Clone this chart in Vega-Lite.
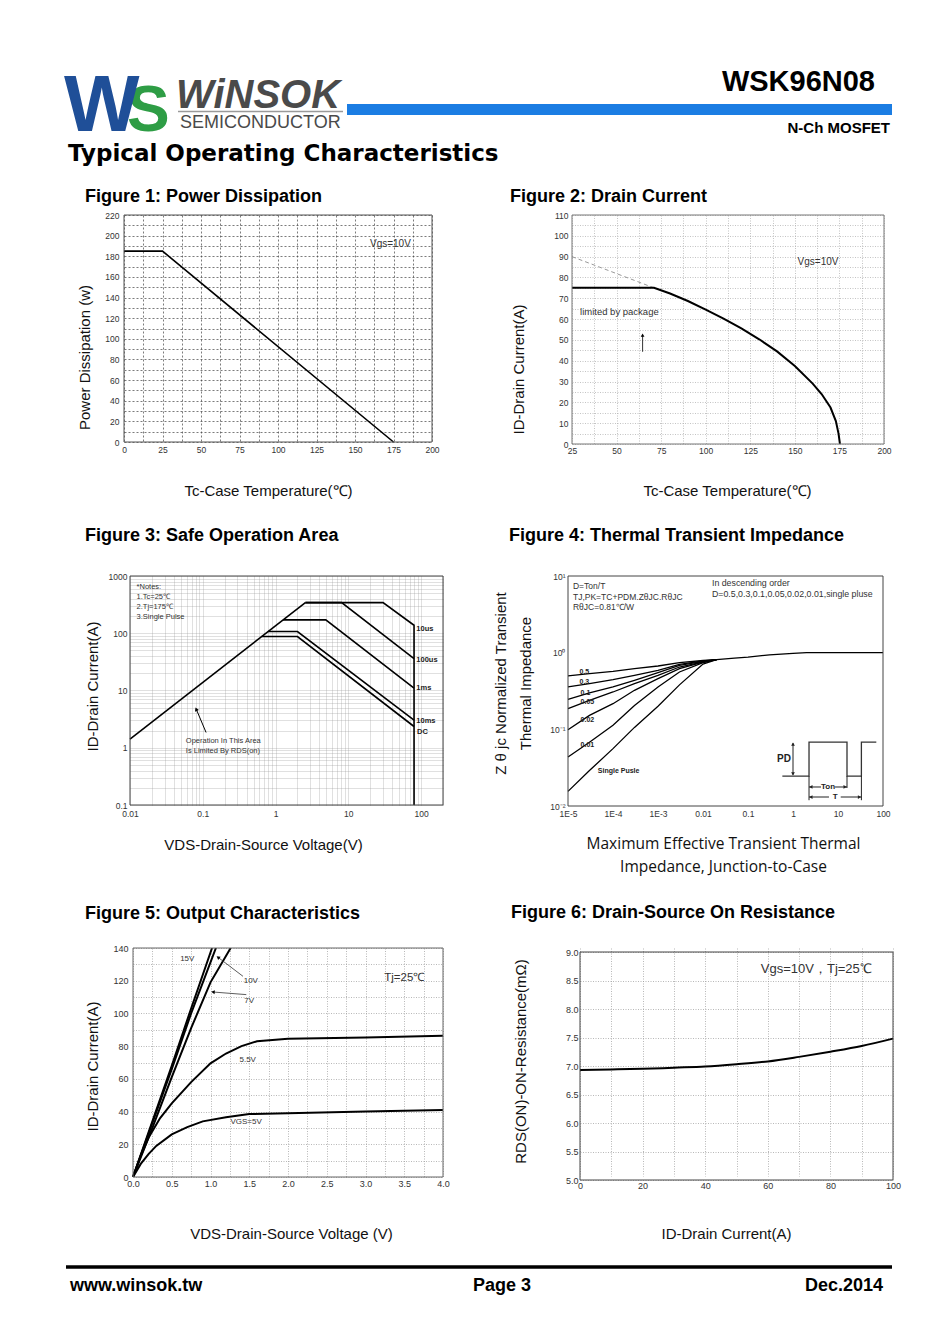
{
"$schema": "https://vega.github.io/schema/vega-lite/v6.json",
"background": "white",
"padding": 0,
"columns": 2,
"spacing": {"row": 0, "column": 125},
"bounds": "flush",
"align": "each",
"datasets": {
"f1": [{"x":0,"y":185},{"x":25,"y":185},{"x":175,"y":0}],
"f2": [{"x":25,"y":75},{"x":71,"y":75},{"x":80,"y":72.3},{"x":90,"y":68.7},{"x":100,"y":64.5},{"x":110,"y":60.2},{"x":120,"y":55.5},{"x":130,"y":50.3},{"x":140,"y":44.5},{"x":150,"y":37.5},{"x":160,"y":29},{"x":165,"y":24},{"x":170,"y":17.5},{"x":173,"y":11},{"x":174.5,"y":5},{"x":175.3,"y":0}],
"f2d": [{"x":25,"y":90},{"x":71,"y":75}],
"f2seg": [{"x":64.6,"y":44.3,"x2":64.6,"y2":52}],
"f3": [
{"s":"RDS","i":0,"x":0.01,"y":1.42},{"s":"RDS","i":1,"x":2.57,"y":343},
{"s":"10us","i":0,"x":2.57,"y":343},{"s":"10us","i":1,"x":30,"y":343},{"s":"10us","i":2,"x":80,"y":138},{"s":"10us","i":3,"x":80,"y":0.1},
{"s":"100us","i":0,"x":2.57,"y":343},{"s":"100us","i":1,"x":8.1,"y":343},{"s":"100us","i":2,"x":80,"y":36},
{"s":"1ms","i":0,"x":1.27,"y":171},{"s":"1ms","i":1,"x":4.9,"y":171},{"s":"1ms","i":2,"x":80,"y":11},
{"s":"10ms","i":0,"x":0.79,"y":107},{"s":"10ms","i":1,"x":2,"y":107},{"s":"10ms","i":2,"x":80,"y":3.05},
{"s":"DC","i":0,"x":0.645,"y":87.5},{"s":"DC","i":1,"x":2,"y":87.5},{"s":"DC","i":2,"x":80,"y":2.35}],
"f3lab": [{"t":"10us","x":86,"y":118},{"t":"100us","x":86,"y":34},{"t":"1ms","x":86,"y":11.1},{"t":"10ms","x":86,"y":2.96},{"t":"DC","x":88,"y":1.9}],
"f3seg": [{"x":0.111,"y":1.85,"x2":0.0813,"y2":4.73}],
"f4": [
{"s":"0.5","x":1e-5,"y":0.497},{"s":"0.5","x":3e-5,"y":0.532},{"s":"0.5","x":1e-4,"y":0.571},{"s":"0.5","x":3e-4,"y":0.618},{"s":"0.5","x":1e-3,"y":0.67},{"s":"0.5","x":3e-3,"y":0.74},{"s":"0.5","x":0.01,"y":0.79},{"s":"0.5","x":0.02,"y":0.81},
{"s":"0.3","x":1e-5,"y":0.357},{"s":"0.3","x":3e-5,"y":0.394},{"s":"0.3","x":1e-4,"y":0.445},{"s":"0.3","x":3e-4,"y":0.506},{"s":"0.3","x":1e-3,"y":0.588},{"s":"0.3","x":3e-3,"y":0.705},{"s":"0.3","x":0.01,"y":0.78},{"s":"0.3","x":0.02,"y":0.81},
{"s":"0.1","x":1e-5,"y":0.246},{"s":"0.1","x":3e-5,"y":0.298},{"s":"0.1","x":1e-4,"y":0.357},{"s":"0.1","x":3e-4,"y":0.436},{"s":"0.1","x":1e-3,"y":0.548},{"s":"0.1","x":3e-3,"y":0.684},{"s":"0.1","x":0.01,"y":0.77},{"s":"0.1","x":0.02,"y":0.81},
{"s":"0.05","x":1e-5,"y":0.186},{"s":"0.05","x":3e-5,"y":0.239},{"s":"0.05","x":1e-4,"y":0.307},{"s":"0.05","x":3e-4,"y":0.394},{"s":"0.05","x":1e-3,"y":0.506},{"s":"0.05","x":3e-3,"y":0.65},{"s":"0.05","x":0.01,"y":0.76},{"s":"0.05","x":0.02,"y":0.81},
{"s":"0.02","x":1e-5,"y":0.099},{"s":"0.02","x":3e-5,"y":0.152},{"s":"0.02","x":1e-4,"y":0.216},{"s":"0.02","x":3e-4,"y":0.323},{"s":"0.02","x":1e-3,"y":0.458},{"s":"0.02","x":3e-3,"y":0.618},{"s":"0.02","x":0.01,"y":0.75},{"s":"0.02","x":0.02,"y":0.81},
{"s":"0.01","x":1e-5,"y":0.0436},{"s":"0.01","x":3e-5,"y":0.068},{"s":"0.01","x":1e-4,"y":0.113},{"s":"0.01","x":3e-4,"y":0.205},{"s":"0.01","x":1e-3,"y":0.356},{"s":"0.01","x":3e-3,"y":0.56},{"s":"0.01","x":0.01,"y":0.74},{"s":"0.01","x":0.02,"y":0.81},
{"s":"sp","x":1e-5,"y":0.0155},{"s":"sp","x":3e-5,"y":0.029},{"s":"sp","x":1e-4,"y":0.056},{"s":"sp","x":3e-4,"y":0.106},{"s":"sp","x":1e-3,"y":0.2},{"s":"sp","x":3e-3,"y":0.38},{"s":"sp","x":0.01,"y":0.71},{"s":"sp","x":0.02,"y":0.81},
{"s":"tail","x":0.02,"y":0.81},{"s":"tail","x":0.05,"y":0.85},{"s":"tail","x":0.1,"y":0.875},{"s":"tail","x":0.3,"y":0.935},{"s":"tail","x":1,"y":0.98},{"s":"tail","x":2,"y":1},{"s":"tail","x":100,"y":1}],
"f4lab": [{"t":"0.5","x":1.8e-5,"y":0.56},{"t":"0.3","x":1.8e-5,"y":0.414},{"t":"0.1","x":1.9e-5,"y":0.301},{"t":"0.05","x":1.9e-5,"y":0.227},{"t":"0.02","x":1.9e-5,"y":0.131},{"t":"0.01","x":1.9e-5,"y":0.0618},{"t":"Single Pusle","x":4.6e-5,"y":0.0286}],
"f4pulse": [{"i":0,"x":0.58,"y":0.0246},{"i":1,"x":2.27,"y":0.0246},{"i":2,"x":2.27,"y":0.0683},{"i":3,"x":15.85,"y":0.0683},{"i":4,"x":15.85,"y":0.0246},{"i":5,"x":33.1,"y":0.0246},{"i":6,"x":33.1,"y":0.0683},{"i":7,"x":71,"y":0.0683}],
"f4seg": [{"x":1,"y":0.066,"x2":1,"y2":0.0255},{"x":2.27,"y":0.0246,"x2":2.27,"y2":0.0119},{"x":33.1,"y":0.0246,"x2":33.1,"y2":0.0119},{"x":15.85,"y":0.0246,"x2":15.85,"y2":0.0172},{"x":2.27,"y":0.0177,"x2":4.2,"y2":0.0177},{"x":8.6,"y":0.0177,"x2":15.85,"y2":0.0177},{"x":2.27,"y":0.0131,"x2":6.3,"y2":0.0131},{"x":11.5,"y":0.0131,"x2":33.1,"y2":0.0131}],
"f4arr": [{"x":1,"y":0.064,"dir":"triangle-up"},{"x":1,"y":0.0262,"dir":"triangle-down"},{"x":2.5,"y":0.0177,"dir":"triangle-left"},{"x":14.4,"y":0.0177,"dir":"triangle-right"},{"x":2.5,"y":0.0131,"dir":"triangle-left"},{"x":30,"y":0.0131,"dir":"triangle-right"}],
"f4txt": [{"t":"Ton","x":6,"y":0.0177},{"t":"T","x":8.7,"y":0.0131}],
"f5": [
{"s":"15V","x":0,"y":0},{"s":"15V","x":0.25,"y":34},{"s":"15V","x":0.5,"y":68},{"s":"15V","x":0.75,"y":103},{"s":"15V","x":1.02,"y":140},
{"s":"10V","x":0,"y":0},{"s":"10V","x":0.25,"y":33},{"s":"10V","x":0.5,"y":66},{"s":"10V","x":0.75,"y":100},{"s":"10V","x":1.07,"y":140},
{"s":"7V","x":0,"y":0},{"s":"7V","x":0.25,"y":30},{"s":"7V","x":0.5,"y":61},{"s":"7V","x":0.75,"y":91},{"s":"7V","x":1,"y":119},{"s":"7V","x":1.26,"y":140},
{"s":"5.5V","x":0,"y":0},{"s":"5.5V","x":0.1,"y":13},{"s":"5.5V","x":0.2,"y":24},{"s":"5.5V","x":0.35,"y":36},{"s":"5.5V","x":0.5,"y":45},{"s":"5.5V","x":0.75,"y":58},{"s":"5.5V","x":1,"y":69.5},{"s":"5.5V","x":1.2,"y":75.5},{"s":"5.5V","x":1.4,"y":80},{"s":"5.5V","x":1.6,"y":83},{"s":"5.5V","x":2,"y":84.5},{"s":"5.5V","x":3,"y":85.3},{"s":"5.5V","x":4,"y":86.3},
{"s":"5V","x":0,"y":0},{"s":"5V","x":0.1,"y":8},{"s":"5V","x":0.2,"y":14},{"s":"5V","x":0.3,"y":19},{"s":"5V","x":0.5,"y":26},{"s":"5V","x":0.7,"y":30.5},{"s":"5V","x":0.9,"y":34},{"s":"5V","x":1.2,"y":36.5},{"s":"5V","x":1.5,"y":38.5},{"s":"5V","x":2,"y":39},{"s":"5V","x":3,"y":40},{"s":"5V","x":4,"y":41}],
"f5lab": [{"t":"15V","x":0.7,"y":133},{"t":"10V","x":1.52,"y":119.6},{"t":"7V","x":1.5,"y":107.4},{"t":"5.5V","x":1.48,"y":71.7},{"t":"VGS=5V","x":1.46,"y":33.5}],
"f5seg": [{"x":1.419,"y":122.7,"x2":1.097,"y2":134.3},{"x":1.462,"y":111.5,"x2":1.032,"y2":113.1}],
"f6": [{"x":0,"y":6.93},{"x":10,"y":6.94},{"x":20,"y":6.95},{"x":30,"y":6.97},{"x":40,"y":6.99},{"x":50,"y":7.03},{"x":60,"y":7.08},{"x":70,"y":7.16},{"x":80,"y":7.25},{"x":90,"y":7.35},{"x":100,"y":7.48}]
},
"concat": [
{
"width": 1, "height": 215,
"data": {"values": [{}]},
"layer": [
{"mark": {"type": "rect", "color": "white", "opacity": 0},
 "encoding": {"x": {"datum": 0, "type": "quantitative", "scale": {"domain": [124, 125], "nice": false, "zero": false}, "axis": null}, "x2": {"datum": 950},
  "y": {"datum": 0, "type": "quantitative", "scale": {"domain": [0, 215], "nice": false, "zero": false, "reverse": true}, "axis": null}, "y2": {"datum": 1}}},
{"mark": {"type": "rect", "color": "#1b7de3"},
 "encoding": {"x": {"datum": 347}, "x2": {"datum": 892}, "y": {"datum": 104}, "y2": {"datum": 115}}},
{"mark": {"type": "rule", "color": "#9a9a9a", "strokeWidth": 1.5},
 "encoding": {"x": {"datum": 178}, "x2": {"datum": 343}, "y": {"datum": 111.5}}},
{"mark": {"type": "text", "text": "S", "font": "Liberation Sans", "fontWeight": "bold", "fontSize": 64, "color": "#2e9d45", "align": "left", "baseline": "alphabetic"},
 "encoding": {"x": {"datum": 127}, "y": {"datum": 131}}},
{"mark": {"type": "text", "text": "W", "font": "Liberation Sans", "fontWeight": "bold", "fontSize": 80, "color": "#1f4f98", "align": "left", "baseline": "alphabetic"},
 "encoding": {"x": {"datum": 64}, "y": {"datum": 131}}},
{"mark": {"type": "text", "text": "WiNSOK", "font": "Liberation Sans", "fontWeight": "bold", "fontStyle": "italic", "fontSize": 40, "color": "#4a4a4a", "align": "left", "baseline": "alphabetic"},
 "encoding": {"x": {"datum": 176}, "y": {"datum": 108}}},
{"mark": {"type": "text", "text": "SEMICONDUCTOR", "font": "Liberation Sans", "fontSize": 18, "color": "#4a4a4a", "align": "left", "baseline": "alphabetic"},
 "encoding": {"x": {"datum": 180}, "y": {"datum": 128}}},
{"mark": {"type": "text", "text": "WSK96N08", "font": "Liberation Sans", "fontWeight": "bold", "fontSize": 29, "color": "#000", "align": "right", "baseline": "alphabetic"},
 "encoding": {"x": {"datum": 875}, "y": {"datum": 91}}},
{"mark": {"type": "text", "text": "N-Ch MOSFET", "font": "Liberation Sans", "fontWeight": "bold", "fontSize": 15, "color": "#000", "align": "right", "baseline": "alphabetic"},
 "encoding": {"x": {"datum": 890}, "y": {"datum": 133}}},
{"mark": {"type": "text", "text": "Typical Operating Characteristics", "font": "DejaVu Sans", "fontWeight": "bold", "fontSize": 23, "color": "#000", "align": "left", "baseline": "alphabetic"},
 "encoding": {"x": {"datum": 68}, "y": {"datum": 161}}}
]
},
{"width": 1, "height": 1, "data": {"values": []}, "mark": "point"},

{
"width": 308, "height": 227,
"title": {"text": "Figure 1: Power Dissipation", "dx": -39, "offset": 5},
"layer": [
{"data": {"name": "f1"},
 "mark": {"type": "line", "color": "#000", "strokeWidth": 1.6},
 "encoding": {
  "x": {"field": "x", "type": "quantitative", "scale": {"domain": [0, 200], "nice": false, "zero": false},
   "axis": {"tickCount": 500, "values": [0,12.5,25,37.5,50,62.5,75,87.5,100,112.5,125,137.5,150,162.5,175,187.5,200], "labelExpr": "datum.value % 25 == 0 ? format(datum.value, 'd') : ''", "labelOverlap": false, "title": "Tc-Case Temperature(℃)", "titleX": 144, "titleY": 48, "gridColor": "#444", "gridDash": [2, 2], "labelPadding": 3}},
  "y": {"field": "y", "type": "quantitative", "scale": {"domain": [0, 220], "nice": false, "zero": false},
   "axis": {"tickCount": 500, "values": [0,10,20,30,40,50,60,70,80,90,100,110,120,130,140,150,160,170,180,190,200,210,220], "labelExpr": "datum.value % 20 == 0 ? format(datum.value, 'd') : ''", "labelOverlap": false, "title": "Power Dissipation (w)", "titleX": -40, "titleY": 142, "gridColor": "#444", "gridDash": [2, 2], "labelPadding": 5}}}},
{"data": {"values": [{"t": "Vgs=10V"}]},
 "mark": {"type": "text", "fontSize": 10, "color": "#333"},
 "encoding": {"x": {"datum": 173}, "y": {"datum": 192}, "text": {"field": "t"}}},
{"data": {"values": [{}]},
 "mark": {"type": "rect", "filled": false, "color": "#555", "strokeWidth": 1},
 "encoding": {"x": {"datum": 0}, "x2": {"datum": 200}, "y": {"datum": 0}, "y2": {"datum": 220}}}
]
},
{
"width": 316, "height": 229,
"title": {"text": "Figure 2: Drain Current", "dx": -58, "offset": 5},
"layer": [
{"data": {"name": "f2d"},
 "mark": {"type": "line", "color": "#999", "strokeWidth": 1, "strokeDash": [4, 3]},
 "encoding": {
  "x": {"field": "x", "type": "quantitative", "scale": {"domain": [25, 200], "range": [4, 316], "nice": false, "zero": false},
   "axis": {"tickCount": 500, "values": [25,37.5,50,62.5,75,87.5,100,112.5,125,137.5,150,162.5,175,187.5,200], "labelExpr": "datum.value % 25 == 0 ? format(datum.value, 'd') : ''", "labelOverlap": false, "title": "Tc-Case Temperature(℃)", "titleX": 159, "titleY": 46, "gridColor": "#aaa", "gridDash": [1, 1.5], "labelPadding": 2}},
  "y": {"field": "y", "type": "quantitative", "scale": {"domain": [0, 110], "nice": false, "zero": false},
   "axis": {"tickCount": 500, "offset": -4, "values": [0,5,10,15,20,25,30,35,40,45,50,55,60,65,70,75,80,85,90,95,100,105,110], "labelExpr": "datum.value % 10 == 0 ? format(datum.value, 'd') : ''", "labelOverlap": false, "title": "ID-Drain Current(A)", "titleX": -54, "titleY": 154, "gridColor": "#aaa", "gridDash": [1, 1.5], "labelPadding": 4}}}},
{"data": {"name": "f2"},
 "mark": {"type": "line", "color": "#000", "strokeWidth": 2},
 "encoding": {"x": {"field": "x", "type": "quantitative"}, "y": {"field": "y", "type": "quantitative"}}},
{"data": {"name": "f2seg"},
 "mark": {"type": "rule", "color": "#000", "strokeWidth": 0.8},
 "encoding": {"x": {"field": "x", "type": "quantitative"}, "y": {"field": "y", "type": "quantitative"}, "x2": {"field": "x2"}, "y2": {"field": "y2"}}},
{"data": {"values": [{}]},
 "mark": {"type": "point", "shape": "triangle-up", "filled": true, "color": "#000", "size": 14, "opacity": 1},
 "encoding": {"x": {"datum": 64.6}, "y": {"datum": 52.3}}},
{"data": {"values": [{"t": "Vgs=10V"}]},
 "mark": {"type": "text", "fontSize": 10, "color": "#333"},
 "encoding": {"x": {"datum": 163}, "y": {"datum": 87.6}, "text": {"field": "t"}}},
{"data": {"values": [{"t": "limited by package"}]},
 "mark": {"type": "text", "fontSize": 9.5, "color": "#333", "align": "left"},
 "encoding": {"x": {"datum": 29.5}, "y": {"datum": 63.5}, "text": {"field": "t"}}},
{"data": {"values": [{}]},
 "mark": {"type": "rect", "filled": false, "color": "#777", "strokeWidth": 1},
 "encoding": {"x": {"datum": 25}, "x2": {"datum": 200}, "y": {"datum": 0}, "y2": {"datum": 110}}}
]
},

{"width": 1, "height": 132, "data": {"values": []}, "mark": "point"},
{"width": 1, "height": 132, "data": {"values": []}, "mark": "point"},

{
"width": 319, "height": 229,
"title": {"text": "Figure 3: Safe Operation Area", "dx": -39, "offset": 27},
"layer": [
{"data": {"name": "f3"},
 "mark": {"type": "line", "color": "#000", "strokeWidth": 1.6},
 "encoding": {
  "x": {"field": "x", "type": "quantitative", "scale": {"type": "log", "domain": [0.01, 200], "range": [6, 319], "nice": false},
   "axis": {"tickCount": 500, "values": [0.01,0.02,0.03,0.04,0.05,0.06,0.07,0.08,0.09,0.1,0.2,0.3,0.4,0.5,0.6,0.7,0.8,0.9,1,2,3,4,5,6,7,8,9,10,20,30,40,50,60,70,80,90,100,200], "labelExpr": "abs(log(datum.value)/LN10 - round(log(datum.value)/LN10)) < 0.01 ? format(datum.value, '~g') : ''", "labelOverlap": false, "title": "VDS-Drain-Source Voltage(V)", "titleX": 139, "titleY": 39, "gridColor": "#999", "gridDash": [1, 1], "gridWidth": 0.6, "labelPadding": 4}},
  "y": {"field": "y", "type": "quantitative", "scale": {"type": "log", "domain": [0.1, 1000], "nice": false},
   "axis": {"tickCount": 500, "offset": -6, "values": [0.1,0.2,0.3,0.4,0.5,0.6,0.7,0.8,0.9,1,2,3,4,5,6,7,8,9,10,20,30,40,50,60,70,80,90,100,200,300,400,500,600,700,800,900,1000], "labelExpr": "abs(log(datum.value)/LN10 - round(log(datum.value)/LN10)) < 0.01 ? format(datum.value, '~g') : ''", "labelOverlap": false, "title": "ID-Drain Current(A)", "titleX": -38, "titleY": 110, "gridColor": "#999", "gridDash": [1, 1], "gridWidth": 0.6, "labelPadding": 3}},
  "detail": {"field": "s"},
  "order": {"field": "i"}}},
{"data": {"name": "f3lab"},
 "mark": {"type": "text", "fontSize": 7.5, "fontWeight": "bold", "color": "#222", "align": "left"},
 "encoding": {"x": {"field": "x", "type": "quantitative"}, "y": {"field": "y", "type": "quantitative"}, "text": {"field": "t"}}},
{"data": {"values": [{"t": "*Notes:\n1.Tc=25℃\n2.Tj=175℃\n3.Single Pulse"}]},
 "mark": {"type": "text", "fontSize": 7.5, "color": "#333", "align": "left", "baseline": "top", "lineBreak": "\n", "lineHeight": 10},
 "encoding": {"x": {"datum": 0.0123}, "y": {"datum": 760}, "text": {"field": "t"}}},
{"data": {"values": [{"t": "Operation In This Area\n Is Limited By RDS(on)"}]},
 "mark": {"type": "text", "fontSize": 7.5, "color": "#333", "align": "left", "baseline": "top", "lineBreak": "\n", "lineHeight": 10.5},
 "encoding": {"x": {"datum": 0.0585}, "y": {"datum": 1.56}, "text": {"field": "t"}}},
{"data": {"name": "f3seg"},
 "mark": {"type": "rule", "color": "#000", "strokeWidth": 1},
 "encoding": {"x": {"field": "x", "type": "quantitative"}, "y": {"field": "y", "type": "quantitative"}, "x2": {"field": "x2"}, "y2": {"field": "y2"}}},
{"data": {"values": [{}]},
 "mark": {"type": "point", "shape": "triangle-up", "filled": true, "color": "#000", "size": 18, "opacity": 1, "angle": 337},
 "encoding": {"x": {"datum": 0.0813}, "y": {"datum": 4.73}}},
{"data": {"values": [{}]},
 "mark": {"type": "rect", "filled": false, "color": "#444", "strokeWidth": 1},
 "encoding": {"x": {"datum": 0.01}, "x2": {"datum": 200}, "y": {"datum": 0.1}, "y2": {"datum": 1000}}}
]
},
{
"width": 315, "height": 230,
"title": {"text": "Figure 4: Thermal Transient Impedance", "dx": -59, "offset": 27},
"resolve": {"axis": {"x": "independent", "y": "independent"}},
"layer": [
{"data": {"values": [{}]},
 "mark": {"type": "rect", "color": "white"},
 "encoding": {"x": {"datum": 1.02e-5, "axis": null}, "x2": {"datum": 0.0028}, "y": {"datum": 3.3, "axis": null}, "y2": {"datum": 9.9}}},
{"data": {"name": "f4"},
 "mark": {"type": "line", "color": "#000", "strokeWidth": 1.3},
 "encoding": {
  "x": {"field": "x", "type": "quantitative", "scale": {"type": "log", "domain": [1e-5, 100], "nice": false},
   "axis": {"tickCount": 500, "values": [1e-5,2e-5,3e-5,4e-5,5e-5,6e-5,7e-5,8e-5,9e-5,1e-4,2e-4,3e-4,4e-4,5e-4,6e-4,7e-4,8e-4,9e-4,0.001,0.002,0.003,0.004,0.005,0.006,0.007,0.008,0.009,0.01,0.02,0.03,0.04,0.05,0.06,0.07,0.08,0.09,0.1,0.2,0.3,0.4,0.5,0.6,0.7,0.8,0.9,1,2,3,4,5,6,7,8,9,10,20,30,40,50,60,70,80,90,100], "labelExpr": "abs(log(datum.value)/LN10 - round(log(datum.value)/LN10)) < 0.01 ? (datum.value < 0.005 ? '1E' + round(log(datum.value)/LN10) : format(datum.value, '~g')) : ''", "labelOverlap": false, "title": ["Maximum Effective Transient Thermal", "Impedance, Junction-to-Case"], "titleFont": "Open Sans", "titleFontSize": 15.5, "titleLineHeight": 23, "titleX": 155, "titleY": 37, "gridColor": "#aaa", "gridDash": [1, 1], "gridWidth": 0.6, "labelPadding": 3}},
  "y": {"field": "y", "type": "quantitative", "scale": {"type": "log", "domain": [0.01, 10], "nice": false},
   "axis": {"tickCount": 500, "values": [0.01,0.02,0.03,0.04,0.05,0.06,0.07,0.08,0.09,0.1,0.2,0.3,0.4,0.5,0.6,0.7,0.8,0.9,1,2,3,4,5,6,7,8,9,10], "labelExpr": "abs(log(datum.value)/LN10 - round(log(datum.value)/LN10)) < 0.01 ? ['10⁻²','10⁻¹','10⁰','10¹'][round(log(datum.value)/LN10) + 2] : ''", "labelOverlap": false, "title": ["Z θ jc   Normalized Transient", "Thermal   Impedance"], "titleLineHeight": 25, "titleX": -68, "titleY": 107, "gridColor": "#aaa", "gridDash": [1, 1], "gridWidth": 0.6, "labelPadding": 3}},
  "detail": {"field": "s"}}},
{"data": {"name": "f4pulse"},
 "mark": {"type": "line", "color": "#333", "strokeWidth": 1.3},
 "encoding": {
  "x": {"field": "x", "type": "quantitative", "axis": {"tickCount": 500, "orient": "top", "values": [1e-5,1e-4,0.001,0.01,0.1,1,10,100], "labels": false, "title": null, "gridDash": [], "gridColor": "#999", "gridWidth": 0.8}},
  "y": {"field": "y", "type": "quantitative", "axis": {"tickCount": 500, "orient": "right", "values": [0.01,0.1,1,10], "labels": false, "title": null, "gridDash": [], "gridColor": "#999", "gridWidth": 0.8}},
  "order": {"field": "i"}}},
{"data": {"name": "f4seg"},
 "mark": {"type": "rule", "color": "#222", "strokeWidth": 1},
 "encoding": {"x": {"field": "x", "type": "quantitative", "axis": null}, "y": {"field": "y", "type": "quantitative", "axis": null}, "x2": {"field": "x2"}, "y2": {"field": "y2"}}},
{"data": {"name": "f4arr"},
 "mark": {"type": "point", "filled": true, "color": "#222", "size": 14, "opacity": 1},
 "encoding": {"x": {"field": "x", "type": "quantitative", "axis": null}, "y": {"field": "y", "type": "quantitative", "axis": null}, "shape": {"field": "dir", "type": "nominal", "scale": null}}},
{"data": {"name": "f4lab"},
 "mark": {"type": "text", "fontSize": 7, "fontWeight": "bold", "color": "#222", "align": "left"},
 "encoding": {"x": {"field": "x", "type": "quantitative", "axis": null}, "y": {"field": "y", "type": "quantitative", "axis": null}, "text": {"field": "t"}}},
{"data": {"name": "f4txt"},
 "mark": {"type": "text", "fontSize": 8, "fontWeight": "bold", "color": "#222"},
 "encoding": {"x": {"field": "x", "type": "quantitative", "axis": null}, "y": {"field": "y", "type": "quantitative", "axis": null}, "text": {"field": "t"}}},
{"data": {"values": [{"t": "PD"}]},
 "mark": {"type": "text", "fontSize": 10, "fontWeight": "bold", "color": "#222", "align": "right"},
 "encoding": {"x": {"datum": 0.9, "axis": null}, "y": {"datum": 0.0415, "axis": null}, "text": {"field": "t"}}},
{"data": {"values": [{"t": "D=Ton/T\nTJ,PK=TC+PDM.ZθJC.RθJC\nRθJC=0.81℃/W"}]},
 "mark": {"type": "text", "fontSize": 8.5, "color": "#333", "align": "left", "baseline": "top", "lineBreak": "\n", "lineHeight": 10.5},
 "encoding": {"x": {"datum": 1.29e-5, "axis": null}, "y": {"datum": 8.3, "axis": null}, "text": {"field": "t"}}},
{"data": {"values": [{"t": "In descending order\nD=0.5,0.3,0.1,0.05,0.02,0.01,single pluse"}]},
 "mark": {"type": "text", "fontSize": 8.8, "color": "#333", "align": "left", "baseline": "top", "lineBreak": "\n", "lineHeight": 11},
 "encoding": {"x": {"datum": 0.0158, "axis": null}, "y": {"datum": 9.1, "axis": null}, "text": {"field": "t"}}},
{"data": {"values": [{}]},
 "mark": {"type": "rect", "filled": false, "color": "#444", "strokeWidth": 1},
 "encoding": {"x": {"datum": 1e-5, "axis": null}, "x2": {"datum": 100}, "y": {"datum": 0.01, "axis": null}, "y2": {"datum": 10}}}
]
},

{"width": 1, "height": 142, "data": {"values": []}, "mark": "point"},
{"width": 1, "height": 142, "data": {"values": []}, "mark": "point"},

{
"width": 319, "height": 229,
"title": {"text": "Figure 5: Output Characteristics", "dx": -39, "offset": 21},
"layer": [
{"data": {"name": "f5"},
 "mark": {"type": "line", "color": "#000", "strokeWidth": 2, "clip": true},
 "encoding": {
  "x": {"field": "x", "type": "quantitative", "scale": {"domain": [0, 4], "range": [9, 319], "nice": false, "zero": false},
   "axis": {"tickCount": 500, "values": [0,0.25,0.5,0.75,1,1.25,1.5,1.75,2,2.25,2.5,2.75,3,3.25,3.5,3.75,4], "labelExpr": "datum.value % 0.5 == 0 ? format(datum.value, '.1f') : ''", "labelOverlap": false, "title": "VDS-Drain-Source Voltage (V)", "titleX": 167, "titleY": 56, "gridColor": "#999", "gridDash": [1, 1.5], "labelPadding": 2, "labelFontSize": 9}},
  "y": {"field": "y", "type": "quantitative", "scale": {"domain": [0, 140], "nice": false, "zero": false},
   "axis": {"tickCount": 500, "offset": -9, "values": [0,10,20,30,40,50,60,70,80,90,100,110,120,130,140], "labelExpr": "datum.value % 20 == 0 ? format(datum.value, 'd') : ''", "labelOverlap": false, "title": "ID-Drain Current(A)", "titleX": -41, "titleY": 118, "gridColor": "#999", "gridDash": [1, 1.5], "labelPadding": 5, "labelFontSize": 9}},
  "detail": {"field": "s"}}},
{"data": {"name": "f5lab"},
 "mark": {"type": "text", "fontSize": 8, "color": "#333"},
 "encoding": {"x": {"field": "x", "type": "quantitative"}, "y": {"field": "y", "type": "quantitative"}, "text": {"field": "t"}}},
{"data": {"name": "f5seg"},
 "mark": {"type": "rule", "color": "#333", "strokeWidth": 0.8},
 "encoding": {"x": {"field": "x", "type": "quantitative"}, "y": {"field": "y", "type": "quantitative"}, "x2": {"field": "x2"}, "y2": {"field": "y2"}}},
{"data": {"values": [{}]},
 "mark": {"type": "point", "shape": "triangle-up", "filled": true, "color": "#000", "size": 16, "opacity": 1, "angle": 307},
 "encoding": {"x": {"datum": 1.097}, "y": {"datum": 134.3}}},
{"data": {"values": [{}]},
 "mark": {"type": "point", "shape": "triangle-up", "filled": true, "color": "#000", "size": 16, "opacity": 1, "angle": 275},
 "encoding": {"x": {"datum": 1.032}, "y": {"datum": 113.1}}},
{"data": {"values": [{"t": "Tj=25℃"}]},
 "mark": {"type": "text", "fontSize": 11.5, "color": "#333"},
 "encoding": {"x": {"datum": 3.5}, "y": {"datum": 121.7}, "text": {"field": "t"}}},
{"data": {"values": [{}]},
 "mark": {"type": "rect", "filled": false, "color": "#666", "strokeWidth": 1},
 "encoding": {"x": {"datum": 0}, "x2": {"datum": 4}, "y": {"datum": 0}, "y2": {"datum": 140}}}
]
},
{
"width": 325, "height": 232,
"title": {"text": "Figure 6: Drain-Source On Resistance", "dx": -57, "offset": 26},
"layer": [
{"data": {"name": "f6"},
 "mark": {"type": "line", "color": "#000", "strokeWidth": 2, "interpolate": "monotone"},
 "encoding": {
  "x": {"field": "x", "type": "quantitative", "scale": {"domain": [0, 100], "range": [12, 325], "nice": false, "zero": false},
   "axis": {"tickCount": 500, "values": [0,10,20,30,40,50,60,70,80,90,100], "labelExpr": "datum.value % 20 == 0 ? format(datum.value, 'd') : ''", "labelOverlap": false, "title": "ID-Drain Current(A)", "titleX": 158, "titleY": 53, "gridColor": "#999", "gridDash": [1, 1.5], "labelPadding": 1, "labelFontSize": 9}},
  "y": {"field": "y", "type": "quantitative", "scale": {"domain": [5, 9], "range": [232, 4], "nice": false, "zero": false},
   "axis": {"tickCount": 500, "offset": -12, "values": [5,5.5,6,6.5,7,7.5,8,8.5,9], "labelExpr": "format(datum.value, '.1f')", "labelOverlap": false, "title": "RDS(ON)-ON-Resistance(mΩ)", "titleX": -60, "titleY": 113, "gridColor": "#999", "gridDash": [1, 1.5], "labelPadding": 2, "labelFontSize": 9}}}},
{"data": {"values": [{"t": "Vgs=10V，Tj=25℃"}]},
 "mark": {"type": "text", "fontSize": 13, "color": "#333"},
 "encoding": {"x": {"datum": 75.5}, "y": {"datum": 8.71}, "text": {"field": "t"}}},
{"data": {"values": [{}]},
 "mark": {"type": "rect", "filled": false, "color": "#444", "strokeWidth": 1},
 "encoding": {"x": {"datum": 0}, "x2": {"datum": 100}, "y": {"datum": 5}, "y2": {"datum": 9}}}
]
},

{
"width": 1, "height": 164,
"data": {"values": [{}]},
"layer": [
{"mark": {"type": "rule", "color": "#000", "strokeWidth": 3.5},
 "encoding": {"x": {"datum": 66, "type": "quantitative", "scale": {"domain": [124, 125], "nice": false, "zero": false}, "axis": null}, "x2": {"datum": 892},
  "y": {"datum": 1267, "type": "quantitative", "scale": {"domain": [1180, 1344], "nice": false, "zero": false, "reverse": true}, "axis": null}}},
{"mark": {"type": "text", "text": "www.winsok.tw", "font": "Liberation Sans", "fontWeight": "bold", "fontSize": 18, "color": "#000", "align": "left", "baseline": "alphabetic"},
 "encoding": {"x": {"datum": 70}, "y": {"datum": 1291}}},
{"mark": {"type": "text", "text": "Page 3", "font": "Liberation Sans", "fontWeight": "bold", "fontSize": 18, "color": "#000", "align": "center", "baseline": "alphabetic"},
 "encoding": {"x": {"datum": 502}, "y": {"datum": 1291}}},
{"mark": {"type": "text", "text": "Dec.2014", "font": "Liberation Sans", "fontWeight": "bold", "fontSize": 18, "color": "#000", "align": "right", "baseline": "alphabetic"},
 "encoding": {"x": {"datum": 883}, "y": {"datum": 1291}}}
]
},
{"width": 1, "height": 1, "data": {"values": []}, "mark": "point"}
],
"config": {
 "view": {"stroke": null},
 "font": "Liberation Sans",
 "title": {"font": "Liberation Sans", "fontSize": 18, "fontWeight": "bold", "anchor": "start", "frame": "group", "color": "#000"},
 "axis": {"ticks": false, "domain": false, "grid": true, "labelFont": "Liberation Sans", "labelFontSize": 8.5, "labelColor": "#333", "labelOverlap": false, "labelFlush": false, "titleFont": "Liberation Sans", "titleFontSize": 15, "titleFontWeight": "normal", "titleColor": "#111", "titleBaseline": "middle", "titleAlign": "center", "gridColor": "#888", "gridDash": [1.5, 1.5], "gridWidth": 0.7},
 "text": {"font": "Liberation Sans", "color": "#222"}
}
}
